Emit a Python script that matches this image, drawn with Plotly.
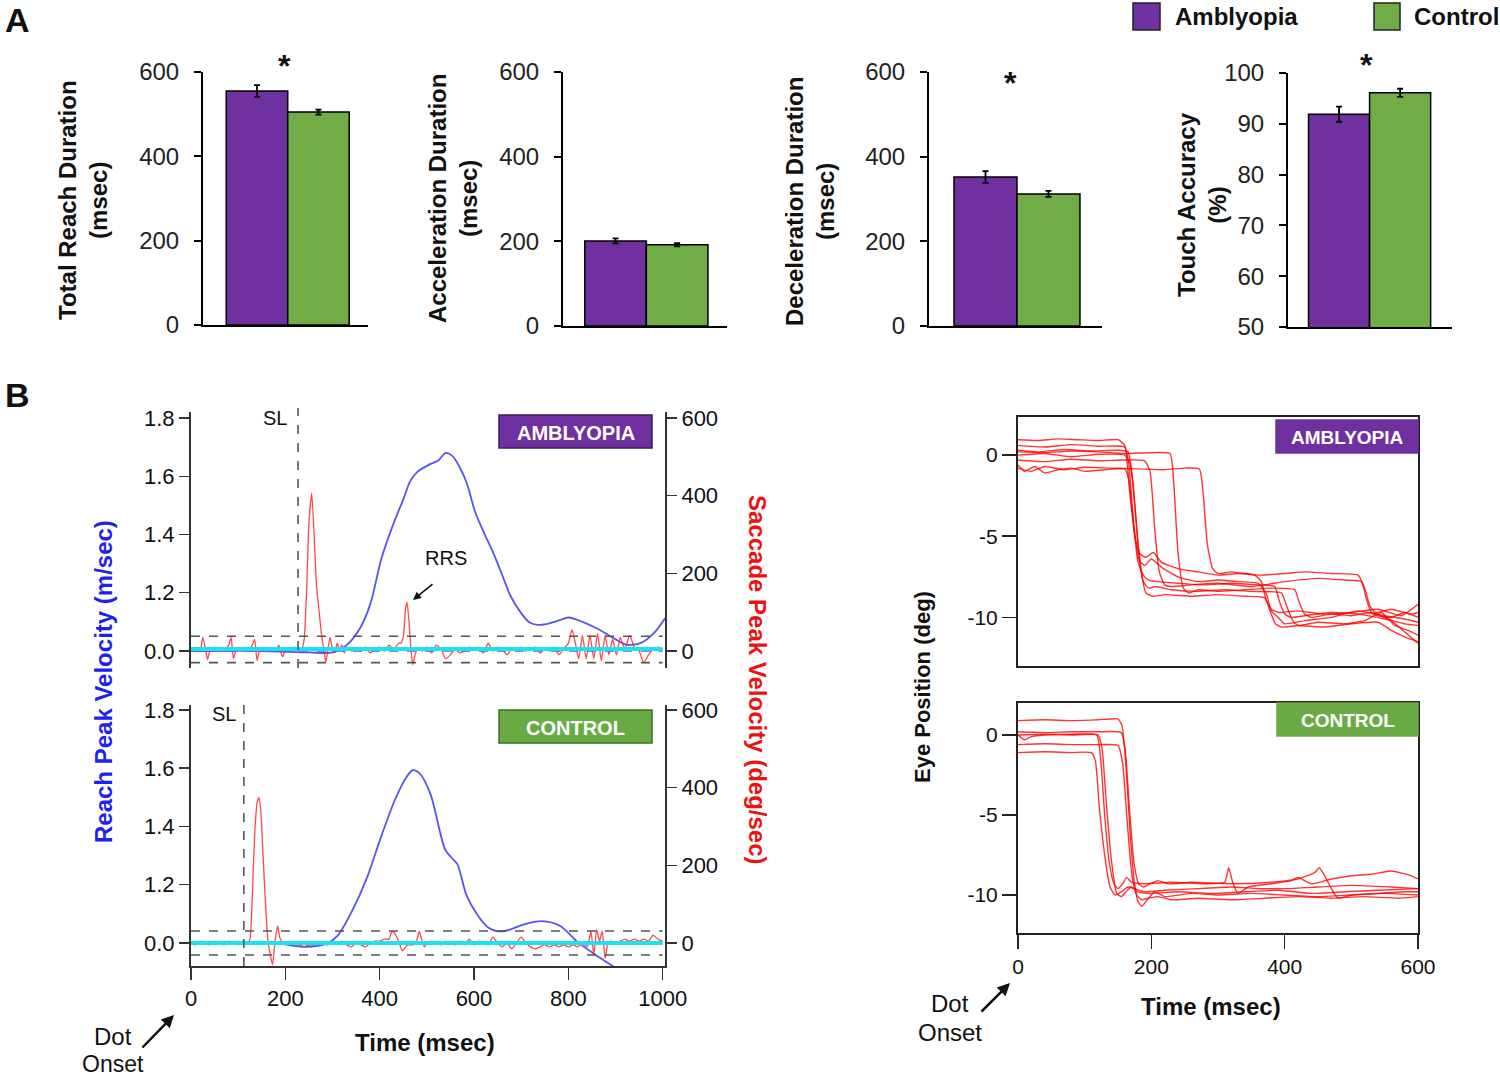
import plotly.graph_objects as go

W, H = 1500, 1080
FONT = "Liberation Sans, Arial, Helvetica, sans-serif"

# ---------------- data : panel A ----------------
groups = ["Amblyopia", "Control"]
total_reach = [555, 505]
total_reach_err = [14, 6]
accel_dur = [201, 192]
accel_dur_err = [6, 4]
decel_dur = [352, 312]
decel_dur_err = [14, 7]
touch_acc = [91.9, 96.1]
touch_acc_err = [1.5, 0.8]
ms_ticks = [0, 200, 400, 600]
pct_ticks = [50, 60, 70, 80, 90, 100]

# ---------------- data : panel B (left) ----------------
time_ticks_b = [0, 200, 400, 600, 800, 1000]
reach_tick_pos = [1.0, 1.2, 1.4, 1.6, 1.8]      # broken axis: "0.0" drawn at 1.0
reach_tick_text = ["0.0", "1.2", "1.4", "1.6", "1.8"]
sacc_ticks = [0, 200, 400, 600]
sl_latency = [227, 112]            # amblyopia, control (ms)
sacc_thresh_amb = [38, -30]
sacc_thresh_ctl = [31, -31]
cyan_level = [5, 0]
blue_zero = [0, 3]
recording_span = [0, 1000]

amb_reach_t = [0, 150, 250, 300, 330, 358, 380, 404, 430, 450, 465, 480, 505, 525, 540, 555, 570, 585,
               602, 620, 640, 660, 678, 700, 717, 735, 760, 785, 801, 830, 861, 890, 922, 953, 984, 1005]
amb_reach_v = [1.0, 1.0, 0.995, 0.995, 1.02, 1.077, 1.16, 1.319, 1.44, 1.52, 1.584, 1.615, 1.64, 1.655,
               1.68, 1.668, 1.63, 1.575, 1.48, 1.41, 1.34, 1.26, 1.187, 1.13, 1.099, 1.09, 1.095, 1.108,
               1.115, 1.1, 1.077, 1.05, 1.022, 1.027, 1.066, 1.112]

ctl_reach_t = [0, 100, 190, 212, 242, 288, 311, 341, 372, 402, 432, 455, 470, 486, 508, 539, 554, 565,
               584, 607, 630, 645, 668, 706, 744, 782, 820, 858, 892, 920]
ctl_reach_v = [1.0, 1.0, 1.0, 0.992, 0.987, 0.998, 1.025, 1.108, 1.219, 1.36, 1.49, 1.565, 1.593, 1.58,
               1.51, 1.32, 1.29, 1.27, 1.164, 1.097, 1.053, 1.042, 1.042, 1.064, 1.075, 1.059, 1.003,
               0.959, 0.923, 0.89]

amb_sacc_t = [0, 10, 20, 25, 30, 35, 40, 50, 60, 70, 80, 85, 90, 95, 100, 110, 120, 130, 135, 140, 145,
              150, 160, 170, 180, 186, 194, 200, 210, 220, 228, 235, 240, 245, 250, 256, 261, 266, 271,
              277, 282, 286, 291, 295, 300, 305, 310, 315, 320, 325, 330, 340, 350, 360, 370, 380, 390,
              400, 410, 420, 430, 440, 445, 450, 455, 458, 462, 466, 470, 475, 480, 490, 500, 510, 520,
              530, 540, 550, 560, 570, 580, 590, 600, 610, 620, 630, 640, 650, 660, 670, 680, 690, 700,
              710, 720, 730, 740, 750, 760, 770, 780, 790, 800, 808, 815, 822, 830, 838, 846, 854, 862,
              870, 878, 886, 894, 902, 910, 920, 930, 940, 950, 960, 970, 980, 990, 1000]
amb_sacc_v = [0, 10, 5, 35, 10, -22, 0, 10, 5, 0, 15, 35, -20, 0, 5, 5, 0, 15, 30, -25, 0,
              5, 0, 5, 0, 15, -15, 0, 5, 10, 0, 5, 30, 150, 330, 406, 300, 170, 110,
              40, 0, -28, 10, 35, 5, -5, 20, 5, 15, -5, 10, 0, 5, 0, 10, -5, 5,
              10, 0, 15, 5, 20, 20, 35, 110, 125, 80, 10, -35, -10, 5, 0, 10, -5, 15,
              5, -20, -10, 5, -5, 0, 10, 5, 10, -5, 20, 0, 10, 5, -10, 5, 0, 10,
              0, 5, 10, -5, 5, 0, 10, -10, 5, 20, 55, 20, -20, 40, -20, 40, -20, 45,
              -25, 40, -10, 30, -10, 35, 5, 40, 10, 0, -30, -10, 5, 10, 5]

ctl_sacc_t = [0, 10, 20, 30, 40, 50, 60, 70, 80, 90, 100, 110, 120, 125, 130, 135, 140, 144, 148, 153,
              158, 163, 168, 173, 177, 180, 184, 188, 194, 200, 210, 220, 230, 240, 250, 260, 270, 280,
              290, 300, 310, 320, 330, 340, 350, 360, 370, 380, 390, 400, 410, 420, 426, 432, 440, 448,
              455, 460, 470, 478, 484, 490, 495, 500, 510, 520, 530, 540, 550, 560, 570, 580, 590, 600,
              610, 620, 630, 640, 650, 660, 670, 680, 690, 700, 710, 720, 730, 740, 750, 760, 770, 780,
              790, 800, 810, 820, 830, 840, 848, 854, 860, 866, 872, 878, 884, 890, 900, 910, 920, 930,
              940, 950, 960, 970, 980, 990, 1000]
ctl_sacc_v = [0, -5, 5, 0, -5, 5, 0, -5, 5, 0, -5, 5, 0, 10, 120, 280, 360, 375, 340, 220,
              100, 10, -30, -56, -10, 20, 44, 15, 0, -5, 0, -5, -5, -10, -5, -5, 0, 0,
              -5, 5, 0, 5, -5, -10, 0, -5, -10, 0, 5, 5, 10, 10, 30, 25, 5, -20,
              -10, -5, -5, 5, 30, 5, -10, 0, 5, 0, -5, 5, 0, -5, 5, -5, 10, -5,
              5, 0, -5, 15, 0, -10, 0, -15, 0, 15, 0, -10, -15, -10, -5, -10, -5, -10,
              -5, -10, -5, -10, 0, -10, 30, -30, 35, 5, 30, -40, 0, 5, 0, 5, 10, 5,
              10, 5, 10, 5, 20, 10, 5]

# ---------------- data : panel B (right) eye position ----------------
eye_time_ticks = [0, 200, 400, 600]
eye_pos_ticks = [-10, -5, 0]
eye_pos_tick_text = ["-10", "-5", "0"]

amb_eye_t = [
    [0, 30, 60, 90, 120, 150, 160, 168, 176, 183, 192, 203, 215, 240, 270, 300, 330, 355, 365, 372, 380, 392, 420, 460, 500, 540, 575, 600],
    [0, 40, 80, 120, 160, 166, 173, 180, 188, 196, 210, 240, 280, 320, 360, 385, 392, 400, 410, 430, 470, 510, 550, 580, 600],
    [0, 30, 70, 110, 150, 165, 172, 180, 188, 196, 205, 230, 270, 310, 350, 395, 403, 412, 420, 450, 490, 520, 545, 565, 585, 600],
    [0, 40, 80, 120, 160, 168, 176, 184, 192, 202, 220, 260, 300, 340, 370, 378, 386, 395, 420, 460, 500, 540, 560, 580, 600],
    [0, 40, 80, 120, 160, 190, 198, 205, 212, 220, 230, 260, 300, 350, 400, 450, 490, 515, 522, 530, 540, 560, 580, 600],
    [0, 40, 80, 120, 160, 200, 228, 234, 240, 248, 256, 270, 300, 340, 380, 415, 422, 430, 440, 470, 500, 530, 560, 580, 600],
    [0, 20, 40, 70, 100, 140, 180, 220, 250, 272, 278, 284, 292, 300, 320, 360, 400, 430, 470, 510, 520, 528, 536, 560, 590, 600],
    [0, 10, 25, 40, 60, 80, 100, 130, 160, 166, 174, 182, 190, 200, 215, 240, 270, 300, 330, 360, 372, 380, 390, 400, 430, 470, 510, 550, 580, 600],
]
amb_eye_y = [
    [0.95, 0.9, 1.0, 0.95, 0.9, 0.95, 0.6, -2.5, -5.2, -6.1, -6.3, -6.0, -6.6, -7.0, -7.2, -7.4, -7.3, -7.4, -7.8, -8.9, -9.5, -9.7, -9.6, -9.8, -9.7, -9.5, -9.9, -9.2],
    [0.6, 0.5, 0.65, 0.55, 0.5, -0.5, -4.0, -6.6, -7.4, -7.7, -7.8, -7.9, -8.0, -7.9, -8.0, -8.1, -9.0, -9.8, -10.0, -9.9, -9.7, -9.8, -10.1, -10.4, -10.5],
    [0.3, 0.2, 0.35, 0.25, 0.3, 0.2, -1.5, -5.5, -7.8, -8.2, -8.1, -8.3, -8.4, -8.3, -8.4, -8.5, -9.3, -10.2, -10.5, -10.3, -10.4, -10.2, -9.7, -10.5, -10.8, -11.1],
    [0.0, 0.1, -0.1, 0.05, 0.0, -0.5, -3.5, -7.0, -8.5, -8.7, -8.6, -8.7, -8.6, -8.7, -8.8, -9.6, -10.4, -10.6, -10.5, -10.6, -10.4, -10.3, -10.8, -11.2, -11.5],
    [-0.3, -0.4, -0.25, -0.35, -0.3, -0.35, -1.0, -4.5, -7.2, -8.0, -8.1, -8.0, -7.9, -8.1, -7.8, -7.6, -7.7, -7.8, -8.8, -9.7, -9.9, -10.0, -9.7, -10.0],
    [0.2, 0.15, 0.25, 0.2, 0.1, 0.15, 0.1, -2.0, -6.0, -8.2, -8.5, -8.3, -8.4, -8.3, -8.2, -8.3, -9.1, -9.8, -10.0, -9.8, -9.9, -9.7, -10.2, -10.9, -11.6],
    [-0.8, -1.0, -0.7, -0.9, -0.75, -0.8, -0.85, -0.9, -0.8, -0.85, -2.5, -5.5, -7.0, -7.3, -7.2, -7.4, -7.3, -7.2, -7.3, -7.4, -8.2, -9.3, -9.7, -9.5, -9.8, -9.7],
    [-0.6, -1.0, -0.7, -1.1, -0.9, -0.8, -1.0, -0.9, -0.85, -1.5, -4.5, -6.5, -6.8, -6.4, -6.9, -7.5, -7.8, -7.7, -7.8, -7.9, -8.5, -9.6, -10.0, -10.4, -10.2, -10.0, -9.6, -9.9, -10.1, -10.3],
]

ctl_eye_t = [
    [0, 40, 80, 120, 150, 156, 162, 168, 174, 180, 186, 194, 205, 220, 260, 300, 350, 400, 450, 500, 550, 600],
    [0, 10, 20, 40, 80, 118, 124, 130, 137, 144, 150, 157, 163, 170, 190, 230, 280, 310, 316, 322, 330, 345, 380, 410, 420, 440, 470, 500, 530, 560, 590, 600],
    [0, 40, 80, 120, 126, 132, 140, 148, 155, 162, 170, 180, 200, 240, 290, 340, 390, 440, 490, 540, 600],
    [0, 40, 80, 120, 155, 161, 167, 174, 181, 188, 198, 210, 225, 260, 320, 380, 420, 445, 452, 460, 470, 480, 500, 540, 580, 600],
    [0, 40, 80, 120, 150, 157, 164, 171, 178, 186, 195, 210, 230, 270, 320, 370, 420, 470, 520, 570, 600],
    [0, 40, 80, 110, 116, 122, 130, 138, 146, 155, 165, 175, 190, 220, 270, 320, 360, 400, 450, 500, 560, 600],
]
ctl_eye_y = [
    [0.9, 0.95, 0.9, 0.95, 1.0, 0.6, -2.0, -6.0, -9.0, -10.4, -10.7, -10.3, -9.8, -10.1, -9.9, -10.0, -9.9, -10.0, -10.1, -10.0, -9.9, -10.0],
    [0.0, -0.3, -0.1, 0.0, 0.05, 0.0, -1.5, -5.0, -8.0, -9.3, -9.6, -9.3, -8.9, -9.2, -9.3, -9.2, -9.3, -9.2, -8.3, -9.2, -9.9, -9.5, -9.3, -9.1, -8.9, -9.3, -9.0, -8.8, -8.7, -8.5, -8.8, -9.0],
    [0.0, 0.05, 0.0, 0.0, -0.8, -4.0, -7.8, -9.9, -10.1, -9.8, -9.5, -9.8, -9.9, -9.8, -9.9, -9.8, -9.7, -9.9, -9.8, -9.7, -9.6],
    [0.2, 0.15, 0.2, 0.2, 0.15, -1.0, -4.5, -8.0, -9.3, -9.5, -9.3, -9.1, -9.3, -9.2, -9.3, -9.2, -9.0, -8.6, -8.3, -8.8, -9.6, -10.2, -10.0, -9.9, -9.8, -9.8],
    [-0.6, -0.55, -0.6, -0.6, -0.65, -1.8, -5.5, -8.8, -10.0, -10.3, -10.2, -10.1, -10.3, -10.2, -10.3, -10.2, -10.1, -10.2, -10.1, -10.2, -10.1],
    [-1.1, -1.05, -1.1, -1.1, -1.6, -4.5, -7.5, -9.5, -10.0, -9.8, -9.5, -9.6, -9.8, -9.7, -9.6, -9.5, -9.6, -9.6, -9.5, -9.4, -9.5, -9.6],
]

# ---------------- helpers ----------------
PURPLE = "#7030A0"
GREEN = "#70AD47"


def dx(a, b):
    return [a / W, b / W]


def dy(top, bottom):
    return [1 - bottom / H, 1 - top / H]


def px(x):
    return x / W


def py(y):
    return 1 - y / H


def note(text, x, y, size=22, color="#111", angle=0, xanchor="center", yanchor="middle"):
    return dict(text=text, x=px(x), y=py(y), xref="paper", yref="paper", showarrow=False,
                textangle=angle, xanchor=xanchor, yanchor=yanchor, font=dict(size=size, color=color))


def arrow(hx, hy, ax, ay, width):
    return dict(text="", x=px(hx), y=py(hy), xref="paper", yref="paper", showarrow=True, ax=ax, ay=ay,
                arrowhead=2, arrowsize=1, arrowwidth=width, arrowcolor="#111",
                xanchor="center", yanchor="middle")


fig = go.Figure()
layout = dict(width=W, height=H, margin=dict(l=0, r=0, t=0, b=0), autosize=False,
              paper_bgcolor="white", plot_bgcolor="white", showlegend=False,
              font=dict(family=FONT, color="#111"), template="none")
annotations = []
shapes = []

# ---------------- panel A: bar charts ----------------
bar_panels = [
    (total_reach, total_reach_err, (203, 368), (72, 325), [0, 600], ms_ticks, [-0.878, 1.805]),
    (accel_dur, accel_dur_err, (563, 727), (72, 326), [0, 600], ms_ticks, [-0.854, 1.81]),
    (decel_dur, decel_dur_err, (929, 1102), (72, 326), [0, 600], ms_ticks, [-0.897, 1.85]),
    (touch_acc, touch_acc_err, (1288, 1452), (73, 327), [50, 100], pct_ticks, [-0.836, 1.85]),
]
for i, (vals, errs, xd, yd, yr, tv, xr) in enumerate(bar_panels):
    n = "" if i == 0 else str(i + 1)
    layout["xaxis" + n] = dict(domain=dx(*xd), range=xr, type="category", showline=True,
                               linecolor="black", linewidth=2, ticks="", showticklabels=False,
                               showgrid=False, zeroline=False, anchor="y" + n)
    layout["yaxis" + n] = dict(domain=dy(*yd), range=yr, tickvals=tv, showline=True,
                               linecolor="black", linewidth=2, ticks="outside", ticklen=7,
                               tickwidth=2, tickcolor="black", ticklabelstandoff=10,
                               tickfont=dict(size=24, color="#222"), showgrid=False,
                               zeroline=False, anchor="x" + n)
    fig.add_trace(go.Bar(x=groups, y=vals, xaxis="x" + n, yaxis="y" + n, width=1,
                         marker=dict(color=[PURPLE, GREEN], line=dict(color="black", width=1.5)),
                         error_y=dict(type="data", array=errs, color="black", thickness=1.8, width=3)))

bar_titles = [
    ("Total Reach Duration<br>(msec)", 83, 200),
    ("Acceleration Duration<br>(msec)", 453, 199),
    ("Deceleration Duration<br>(msec)", 810, 202),
    ("Touch Accuracy<br>(%)", 1202, 205),
]
for txt, x, y in bar_titles:
    annotations.append(note("<b>%s</b>" % txt, x, y, size=24, angle=-90))

for x, y in [(284, 66), (1010, 83), (1366, 65)]:
    annotations.append(note("<b>*</b>", x, y, size=32))

# legend
for (x0, x1), col, label, tx in [((1133, 1160), PURPLE, "Amblyopia", 1173), ((1374, 1400), GREEN, "Control", 1412)]:
    shapes.append(dict(type="rect", xref="paper", yref="paper", x0=px(x0), x1=px(x1), y0=py(30), y1=py(3),
                       fillcolor=col, line=dict(color="#222", width=1.5)))
    annotations.append(note("<b>%s</b>" % label, tx, 17, size=24, xanchor="left"))

for lab, y in [("A", 20), ("B", 395)]:
    annotations.append(note("<b>%s</b>" % lab, 17, y, size=34))

# ---------------- panel B left ----------------
left_axis_style = dict(showline=True, linecolor="#333", linewidth=2, ticks="outside", ticklen=10,
                       tickwidth=1.5, tickcolor="#333", tickfont=dict(size=22, color="#111"),
                       showgrid=False, zeroline=False)
b_panels = [
    ("5", "5", "6", (412, 668), [0.9416, 1.8206], amb_reach_t, amb_reach_v, amb_sacc_t, amb_sacc_v,
     sacc_thresh_amb, 0),
    ("6", "7", "8", (705, 966), [0.921, 1.817], ctl_reach_t, ctl_reach_v, ctl_sacc_t, ctl_sacc_v,
     sacc_thresh_ctl, 1),
]
for xa, ya, yb, yd, lr, rt, rv, st, sv, th, k in b_panels:
    show_x = (k == 1)
    layout["xaxis" + xa] = dict(domain=dx(191, 665), range=[0, 1005], anchor="y" + ya,
                                showline=show_x, linecolor="#333", linewidth=2,
                                ticks="outside" if show_x else "", ticklen=12, tickwidth=1.5,
                                tickcolor="#333", tickvals=time_ticks_b, showticklabels=show_x,
                                tickfont=dict(size=22, color="#111"), showgrid=False, zeroline=False)
    layout["yaxis" + ya] = dict(domain=dy(*yd), range=lr, tickvals=reach_tick_pos,
                                ticktext=reach_tick_text, anchor="x" + xa, side="left", **left_axis_style)
    rr = [(lr[0] - 1.0) * 750, (lr[1] - 1.0) * 750]
    layout["yaxis" + yb] = dict(overlaying="y" + ya, side="right", anchor="x" + xa, range=rr,
                                tickvals=sacc_ticks, **left_axis_style)
    for v in th:
        shapes.append(dict(type="line", xref="x" + xa, yref="y" + yb, x0=recording_span[0],
                           x1=recording_span[1], y0=v, y1=v, line=dict(color="#555", width=1.6, dash="dash")))
    shapes.append(dict(type="line", xref="x" + xa, yref="y" + yb, x0=recording_span[0], x1=recording_span[1],
                       y0=blue_zero[k], y1=blue_zero[k], line=dict(color="#5a5aff", width=1.6, dash="dash")))
    fig.add_trace(go.Scatter(x=st, y=sv, xaxis="x" + xa, yaxis="y" + yb, mode="lines",
                             line=dict(color="rgba(255,40,40,0.85)", width=1.3, shape="spline", smoothing=0.5)))
    fig.add_trace(go.Scatter(x=rt, y=rv, xaxis="x" + xa, yaxis="y" + ya, mode="lines",
                             line=dict(color="#5555f2", width=1.8, shape="spline", smoothing=0.8)))
    shapes.append(dict(type="line", xref="x" + xa, yref="y" + yb, x0=recording_span[0], x1=recording_span[1],
                       y0=cyan_level[k], y1=cyan_level[k], line=dict(color="#19e3f0", width=4)))
    sl_top, sl_bot = (408, 668) if k == 0 else (705, 966)
    shapes.append(dict(type="line", xref="x" + xa, yref="paper", x0=sl_latency[k], x1=sl_latency[k],
                       y0=py(sl_bot), y1=py(sl_top), line=dict(color="#555", width=1.6, dash="dash")))

annotations += [
    note("SL", 275, 418, size=20),
    note("SL", 224, 714, size=20),
    note("RRS", 446, 558, size=20),
    arrow(413, 600, 21, -17, 1.6),
]

box_specs = [
    ((499, 652), (415, 448), PURPLE, "#3b1a55", "AMBLYOPIA", 20),
    ((499, 652), (710, 743), "#6aaa45", "#3e6e26", "CONTROL", 20),
    ((1276, 1418), (420, 453), PURPLE, PURPLE, "AMBLYOPIA", 19),
    ((1277, 1418), (703, 736), "#6aaa45", "#6aaa45", "CONTROL", 19),
]
for (x0, x1), (y0, y1), fc, lc, txt, fs in box_specs:
    shapes.append(dict(type="rect", xref="paper", yref="paper", x0=px(x0), x1=px(x1), y0=py(y1), y1=py(y0),
                       fillcolor=fc, line=dict(color=lc, width=1.5)))
    annotations.append(note("<b>%s</b>" % txt, (x0 + x1) / 2, (y0 + y1) / 2 + 1, size=fs, color="white"))

annotations += [
    note("<b>Reach Peak Velocity (m/sec)</b>", 103, 682, size=24, color="#1f1ff0", angle=-90),
    note("<b>Saccade Peak Velocity (deg/sec)</b>", 758, 680, size=24, color="#ee1111", angle=90),
    note("<b>Time (msec)</b>", 425, 1042, size=24),
    note("Dot", 113, 1036, size=24),
    note("Onset", 113, 1064, size=23),
    arrow(174, 1015, -33, 34, 2.5),
]

# ---------------- panel B right: eye position ----------------
eye_panels = [("7", "9", (417, 666), [-13.0, 2.35], amb_eye_t, amb_eye_y, False),
              ("8", "10", (703, 933), [-12.375, 2.0], ctl_eye_t, ctl_eye_y, True)]
for xa, ya, yd, yr, tt, yy, show_x in eye_panels:
    layout["xaxis" + xa] = dict(domain=dx(1018, 1418), range=[0, 600], anchor="y" + ya, showline=True,
                                mirror=True, linecolor="#222", linewidth=2,
                                ticks="outside" if show_x else "", ticklen=14, tickwidth=1.5,
                                tickcolor="#222", tickvals=eye_time_ticks, showticklabels=show_x,
                                tickfont=dict(size=21, color="#111"), showgrid=False, zeroline=False)
    layout["yaxis" + ya] = dict(domain=dy(*yd), range=yr, anchor="x" + xa, showline=True, mirror=True,
                                linecolor="#222", linewidth=2, ticks="outside", ticklen=14, tickwidth=1.5,
                                tickcolor="#222", tickvals=eye_pos_ticks, ticktext=eye_pos_tick_text,
                                tickfont=dict(size=21, color="#111"), showgrid=False, zeroline=False)
    for t, y in zip(tt, yy):
        fig.add_trace(go.Scatter(x=t, y=y, xaxis="x" + xa, yaxis="y" + ya, mode="lines",
                                 line=dict(color="rgba(255,0,0,0.8)", width=1.4, shape="spline", smoothing=0.5)))

annotations += [
    note("<b>Eye Position (deg)</b>", 922, 687, size=22, angle=-90),
    note("<b>Time (msec)</b>", 1211, 1006, size=24),
    note("Dot", 950, 1003, size=24),
    note("Onset", 950, 1032, size=24),
    arrow(1010, 983, -30, 30, 2.5),
]

layout["annotations"] = annotations
layout["shapes"] = shapes
fig.update_layout(**layout)
fig.write_html("out.html",
               config={"displayModeBar": False, "staticPlot": True},
               post_script="document.body.style.margin='0';document.body.style.padding='0';"
                           "document.documentElement.style.overflow='hidden';")
